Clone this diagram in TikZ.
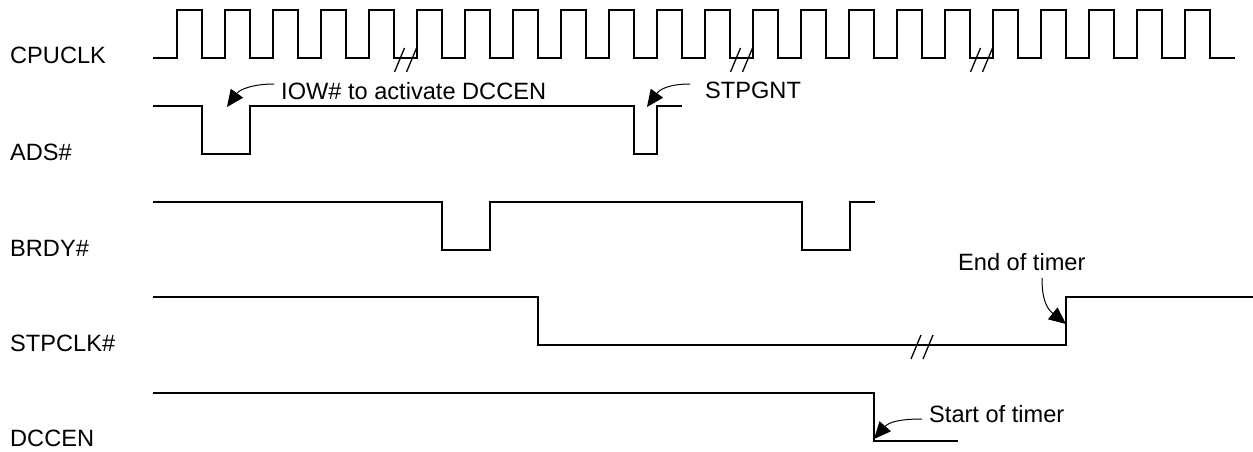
\documentclass[tikz,border=0pt]{standalone}
\usepackage{fontspec}
\setmainfont{Liberation Sans}
\usetikzlibrary{arrows.meta}
\tikzset{
  sig/.style={line width=2.2pt, line join=miter},
  lbl/.style={anchor=west, inner sep=0pt, text height=17pt, text depth=0pt, font=\fontsize{23.6}{27}\selectfont},
  callout/.style={line width=1pt, -{Triangle[length=17pt,width=15pt]}},
  brk/.pic={\draw[line width=1.3pt] (-11,13) -- (-1,-11) (1,13) -- (11,-11);}
}
\begin{document}
\begin{tikzpicture}[x=1pt,y=-1pt]
\useasboundingbox (0,0) rectangle (1253,452);
% labels
\node[lbl] (lclk) at (10,55) {CPUCLK};
\node[lbl] (lads) at (10,152) {ADS\#};
\node[lbl] (lbrdy) at (10,248) {BRDY\#};
\node[lbl] (lstp) at (10,343) {STPCLK\#};
\node[lbl] (ldcc) at (10,438) {DCCEN};
% CPUCLK
\draw[sig] (153,58) \foreach \k in {0,...,21}{ -- ({177+48*\k},58) -- ({177+48*\k},10) -- ({202+48*\k},10) -- ({202+48*\k},58) } -- (1235,58);
\pic at (405.5,59) {brk};
\pic at (741.5,59) {brk};
\pic at (981.5,59) {brk};
% ADS#
\draw[sig] (153,106) -- (202,106) -- (202,154) -- (250,154) -- (250,106) -- (634,106) -- (634,154) -- (657,154) -- (657,106) -- (682,106);
% BRDY#
\draw[sig] (153,202) -- (442,202) -- (442,250) -- (490,250) -- (490,202) -- (802,202) -- (802,250) -- (850,250) -- (850,202) -- (875,202);
% STPCLK#
\draw[sig] (153,297) -- (538,297) -- (538,345) -- (1066,345) -- (1066,297) -- (1253,297);
\pic at (922,346) {brk};
% DCCEN
\draw[sig] (153,393) -- (874,393) -- (874,441) -- (958,441);
% callouts
\node[lbl] (tiow) at (281,91) {IOW\# to activate DCCEN};
\coordinate (siow) at (274,84);
\coordinate (piow) at (227,107);
\draw[callout] (siow) .. controls (254,84) and (240,89) .. (piow);
\node[lbl] (tgnt) at (705,90) {STPGNT};
\coordinate (sgnt) at (690,84);
\coordinate (pgnt) at (647,107);
\draw[callout] (sgnt) .. controls (670,84) and (660,89) .. (pgnt);
\node[lbl] (tend) at (958,262) {End of timer};
\coordinate (send) at (1042,278);
\coordinate (pend) at (1066,324);
\draw[callout] (send) .. controls (1042,298) and (1046,308) .. (pend);
\node[lbl] (tsta) at (929,414) {Start of timer};
\coordinate (ssta) at (922,419);
\coordinate (psta) at (874,439);
\draw[callout] (ssta) .. controls (900,419) and (889,422) .. (psta);
\end{tikzpicture}
\end{document}
